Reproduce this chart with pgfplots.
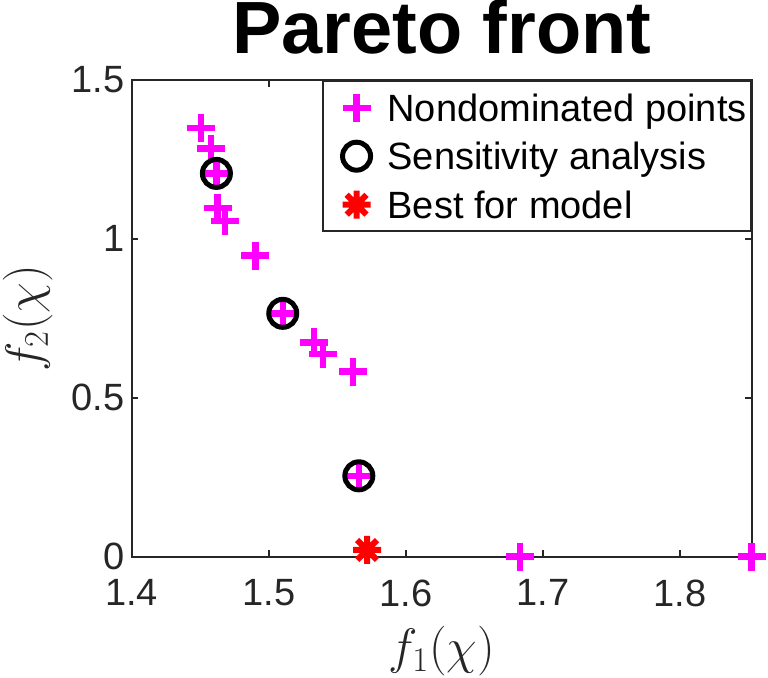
\documentclass[border=0pt]{standalone}
\usepackage{fontspec}
\setmainfont{Liberation Sans}
\usepackage{pgfplots}
\pgfplotsset{compat=1.18}
\definecolor{axgray}{rgb}{0.15,0.15,0.15}
\definecolor{mag}{rgb}{1,0,1}

% eight-spoke asterisk like MATLAB's '*'
\pgfdeclareplotmark{mstar}{%
  \pgfpathmoveto{\pgfqpoint{0pt}{\pgfplotmarksize}}\pgfpathlineto{\pgfqpoint{0pt}{-\pgfplotmarksize}}%
  \pgfpathmoveto{\pgfqpoint{\pgfplotmarksize}{0pt}}\pgfpathlineto{\pgfqpoint{-\pgfplotmarksize}{0pt}}%
  \pgfpathmoveto{\pgfqpoint{0.7071\pgfplotmarksize}{0.7071\pgfplotmarksize}}\pgfpathlineto{\pgfqpoint{-0.7071\pgfplotmarksize}{-0.7071\pgfplotmarksize}}%
  \pgfpathmoveto{\pgfqpoint{-0.7071\pgfplotmarksize}{0.7071\pgfplotmarksize}}\pgfpathlineto{\pgfqpoint{0.7071\pgfplotmarksize}{-0.7071\pgfplotmarksize}}%
  \pgfusepathqstroke}

% legend image: one mark in a fixed-size cell
\pgfplotsset{lgimg/.style={legend image code/.code={%
  \path[draw=none,fill=none] (0pt,-8.6pt) rectangle (30pt,8.6pt);
  \draw[only marks,mark repeat=2,mark phase=2,##1] plot coordinates {(0pt,0pt) (15pt,0pt) (30pt,0pt)};}}}

\begin{document}
\begin{tikzpicture}
\useasboundingbox (-65.85pt,-60.25pt) rectangle (318.15pt,278.25pt);
\begin{axis}[
  at={(0,0)}, anchor=south west,
  scale only axis, width=310pt, height=238.25pt,
  xmin=1.4, xmax=1.8523, ymin=0, ymax=1.5,
  xtick={1.4,1.5,1.6,1.7,1.8},
  ytick={0,0.5,1,1.5},
  tick align=inside, tick pos=both, major tick length=3.3pt,
  axis line style={axgray, line width=1pt},
  every tick/.style={axgray, line width=1pt},
  tick label style={font=\fontsize{19}{19}\selectfont, text=axgray},
  /pgf/number format/assume math mode=true,
  xticklabel style={yshift=-8pt},
  title={\bfseries Pareto front},
  title style={font=\fontsize{37}{37}\selectfont, at={(axis description cs:0.5,1)}, anchor=base, yshift=7.5pt, inner sep=0pt},
  xlabel={$f_1(\chi)$}, ylabel={$f_2(\chi)$},
  label style={font=\fontsize{23}{23}\selectfont, text=axgray},
  xlabel style={at={(axis description cs:0.5,-0.1459)}, anchor=north, inner sep=0pt},
  ylabel style={at={(axis description cs:-0.208,0.5)}, anchor=north, inner sep=0pt},
  clip=false,
  legend cell align=left,
  legend style={at={(axis description cs:1,1)}, anchor=north east, draw=axgray, line width=1pt,
    fill=white, inner xsep=2pt, inner ysep=4.75pt, row sep=7.05pt, column sep=0.5pt,
    font=\fontsize{19}{19}\selectfont,
    nodes={inner sep=0pt, text height=13.7pt, text depth=0pt}, cells={anchor=west}},
]
\addplot[only marks, mark=+, mark size=7pt, line width=3.2pt, color=mag, lgimg] coordinates {
  (1.4504,1.348) (1.4577,1.284) (1.4618,1.206) (1.4626,1.098) (1.4681,1.057)
  (1.4903,0.947) (1.5102,0.7655) (1.5328,0.674) (1.5396,0.637) (1.5613,0.582)
  (1.5657,0.254) (1.6832,0) (1.8523,0)
};
\addplot[only marks, mark=o, mark size=7pt, line width=2.5pt, color=black, lgimg] coordinates {
  (1.4618,1.206) (1.5102,0.7655) (1.5657,0.254)
};
\addplot[only marks, mark=mstar, mark size=7pt, line width=3pt, color=red, lgimg] coordinates {
  (1.5717,0.0205)
};
\legend{Nondominated points, Sensitivity analysis, Best for model}
\end{axis}
\end{tikzpicture}
\end{document}
